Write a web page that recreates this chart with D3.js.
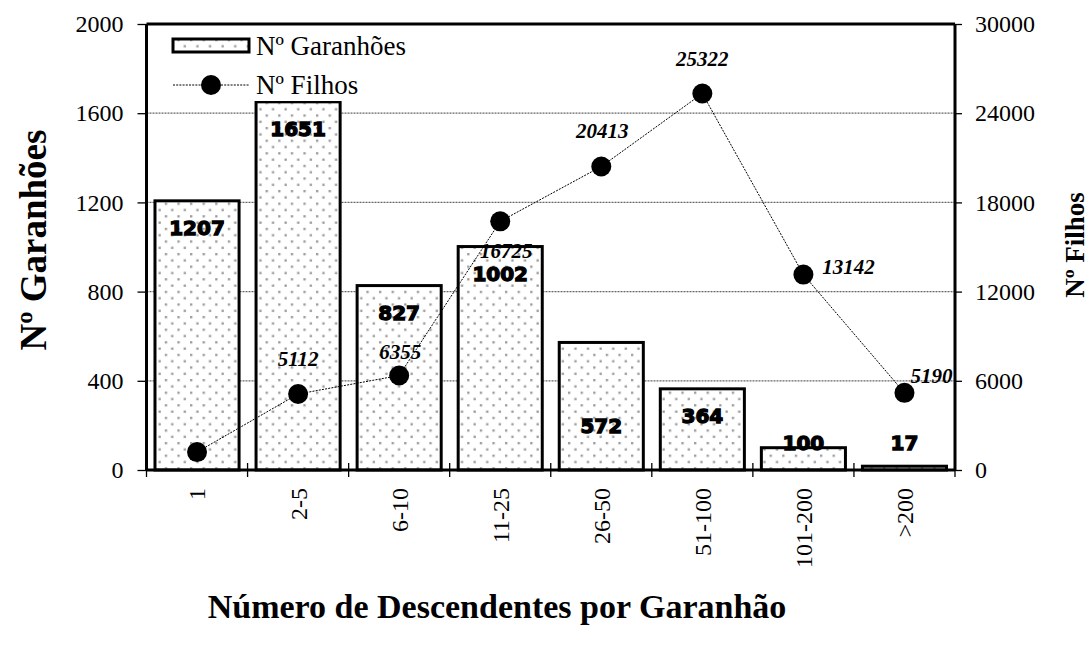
<!DOCTYPE html>
<html><head><meta charset="utf-8">
<script src="https://cdn.jsdelivr.net/npm/d3@7"></script>
<style>body{margin:0;background:#fff}</style>
</head><body><svg id="c" width="1091" height="650"></svg>
<script>
const categories = ["1","2-5","6-10","11-25","26-50","51-100","101-200",">200"];
const garanhoes = [1207,1651,827,1002,572,364,100,17];
const filhos = [1207,5112,6355,16725,20413,25322,13142,5190];
const showFilhosLabel = [false,true,true,true,true,true,true,true];
const leftTicks = [0,400,800,1200,1600,2000];
const rightTicks = [0,6000,12000,18000,24000,30000];
const seriesNames = ["Nº Garanhões","Nº Filhos"];
const leftTitle = "Nº Garanhões";
const rightTitle = "Nº Filhos";
const xTitle = "Número de Descendentes por Garanhão";

const svg = d3.select("#c");
const L = 146.5, R = 955, T = 24, B = 470;
const serif = "'Liberation Serif','Times New Roman',serif";

const defs = svg.append("defs");
const pat = defs.append("pattern").attr("id","dots").attr("patternUnits","userSpaceOnUse")
  .attr("width",12.6).attr("height",12.6);
pat.append("rect").attr("width",12.6).attr("height",12.6).attr("fill","#fff");
pat.append("rect").attr("x",1).attr("y",1).attr("width",2.3).attr("height",2.3).attr("fill","#9a9a9a");
pat.append("rect").attr("x",7.3).attr("y",7.3).attr("width",2.3).attr("height",2.3).attr("fill","#9a9a9a");

const x = d3.scaleBand().domain(categories).range([L,R]).padding(0);
const yL = d3.scaleLinear().domain([0,2000]).range([B,T]);
const yR = d3.scaleLinear().domain([0,30000]).range([B,T]);
const cx = c => x(c) + x.bandwidth()/2;

// grid
svg.append("g").selectAll("line").data(leftTicks.filter(t => t>0 && t<2000)).join("line")
  .attr("x1",L).attr("x2",R).attr("y1",d=>yL(d)).attr("y2",d=>yL(d))
  .attr("stroke","#666").attr("stroke-width",1.2).attr("stroke-dasharray","2,1");

// bars
const inset = x.bandwidth()*0.084;
svg.append("g").selectAll("rect").data(garanhoes).join("rect")
  .attr("x",(d,i)=>x(categories[i])+inset).attr("width",x.bandwidth()-2*inset)
  .attr("y",d=>yL(d)).attr("height",d=>B-yL(d))
  .attr("fill","url(#dots)").attr("stroke","#000").attr("stroke-width",3);

// axes frame
const ax = svg.append("g").attr("stroke","#000");
ax.append("line").attr("x1",L).attr("x2",R).attr("y1",T).attr("y2",T).attr("stroke-width",3);
ax.append("line").attr("x1",L).attr("x2",R).attr("y1",B).attr("y2",B).attr("stroke-width",3);
ax.append("line").attr("x1",L).attr("x2",L).attr("y1",T).attr("y2",B).attr("stroke-width",3);
ax.append("line").attr("x1",R).attr("x2",R).attr("y1",T).attr("y2",B).attr("stroke-width",3);

// left axis
const gl = svg.append("g").attr("transform",`translate(${L},0)`)
  .call(d3.axisLeft(yL).tickValues(leftTicks).tickSize(9).tickPadding(14).tickFormat(d3.format("d")));
gl.attr("font-family",null).attr("font-size",null);
gl.select(".domain").remove();
gl.selectAll("line").attr("stroke","#000").attr("stroke-width",1.3);
gl.selectAll("text").style("font-family",serif).style("font-size","24px").attr("fill","#000");

// right axis
const gr = svg.append("g").attr("transform",`translate(${R},0)`)
  .call(d3.axisRight(yR).tickValues(rightTicks).tickSize(7).tickPadding(13).tickFormat(d3.format("d")));
gr.attr("font-family",null).attr("font-size",null);
gr.select(".domain").remove();
gr.selectAll("line").attr("stroke","#000").attr("stroke-width",1.3);
gr.selectAll("text").style("font-family",serif).style("font-size","24px").attr("fill","#000");

// x axis ticks (category boundaries)
const bounds = categories.map(c=>x(c)).concat([R]);
svg.append("g").selectAll("line").data(bounds).join("line")
  .attr("x1",d=>d).attr("x2",d=>d).attr("y1",B-7).attr("y2",B+7)
  .attr("stroke","#000").attr("stroke-width",1.3);
svg.append("g").selectAll("text").data(categories).join("text")
  .attr("transform",d=>`translate(${cx(d)},${B+18}) rotate(-90)`)
  .attr("text-anchor","end").attr("dy","0.35em")
  .style("font-family",serif).style("font-size","24px").text(d=>d);

// bar labels
const barLabelShift = [0,0,0,0,56,0,0,0];
svg.append("g").selectAll("text").data(garanhoes).join("text")
  .attr("x",(d,i)=>cx(categories[i]))
  .attr("y",(d,i)=>Math.min(yL(d)+27+barLabelShift[i], 443))
  .attr("dy","0.36em").attr("text-anchor","middle")
  .style("font-family","'DejaVu Sans',sans-serif").attr("font-weight","bold")
  .style("font-size","20px").attr("stroke","#000").attr("stroke-width",1.3)
  .text(d=>d);

// line
const line = d3.line().x((d,i)=>cx(categories[i])).y(d=>yR(d));
svg.append("path").datum(filhos).attr("d",line).attr("fill","none")
  .attr("stroke","#000").attr("stroke-width",1).attr("stroke-dasharray","2,1.2");
svg.append("g").selectAll("circle").data(filhos).join("circle")
  .attr("cx",(d,i)=>cx(categories[i])).attr("cy",d=>yR(d)).attr("r",10).attr("fill","#000");

// line labels
const lblOff = [[0,0],[0,-35],[1,-24],[6,29],[1,-36],[0,-35],[45,-8],[27,-17]];
svg.append("g").selectAll("text").data(filhos.map((v,i)=>({v,i})).filter(d=>showFilhosLabel[d.i])).join("text")
  .attr("x",d=>cx(categories[d.i])+lblOff[d.i][0])
  .attr("y",d=>yR(d.v)+lblOff[d.i][1])
  .attr("dy","0.35em").attr("text-anchor","middle")
  .style("font-family",serif).attr("font-weight","bold").attr("font-style","italic")
  .style("font-size","21px").text(d=>d.v);

// legend
const lg = svg.append("g");
lg.append("rect").attr("x",160).attr("y",29).attr("width",250).attr("height",72).attr("fill","#fff");
lg.append("rect").attr("x",173).attr("y",39).attr("width",76).attr("height",13)
  .attr("fill","url(#dots)").attr("stroke","#000").attr("stroke-width",3);
lg.append("text").attr("x",256).attr("y",46).attr("dy","0.35em").style("font-family",serif)
  .style("font-size","27px").text(seriesNames[0]);
lg.append("line").attr("x1",173).attr("x2",249).attr("y1",85).attr("y2",85)
  .attr("stroke","#000").attr("stroke-width",1).attr("stroke-dasharray","2,1.2");
lg.append("circle").attr("cx",211).attr("cy",85).attr("r",10).attr("fill","#000");
lg.append("text").attr("x",256).attr("y",85).attr("dy","0.35em").style("font-family",serif)
  .style("font-size","27px").text(seriesNames[1]);

// titles
svg.append("text").attr("transform","translate(33,240) rotate(-90)").attr("text-anchor","middle")
  .attr("dy","0.35em").style("font-family",serif).attr("font-weight","bold").style("font-size","37px").text(leftTitle);
svg.append("text").attr("transform","translate(1075,245) rotate(-90)").attr("text-anchor","middle")
  .attr("dy","0.35em").style("font-family",serif).attr("font-weight","bold").style("font-size","27px").text(rightTitle);
svg.append("text").attr("x",497).attr("y",606).attr("text-anchor","middle")
  .attr("dy","0.35em").style("font-family",serif).attr("font-weight","bold").style("font-size","34px").text(xTitle);
</script></body></html>
